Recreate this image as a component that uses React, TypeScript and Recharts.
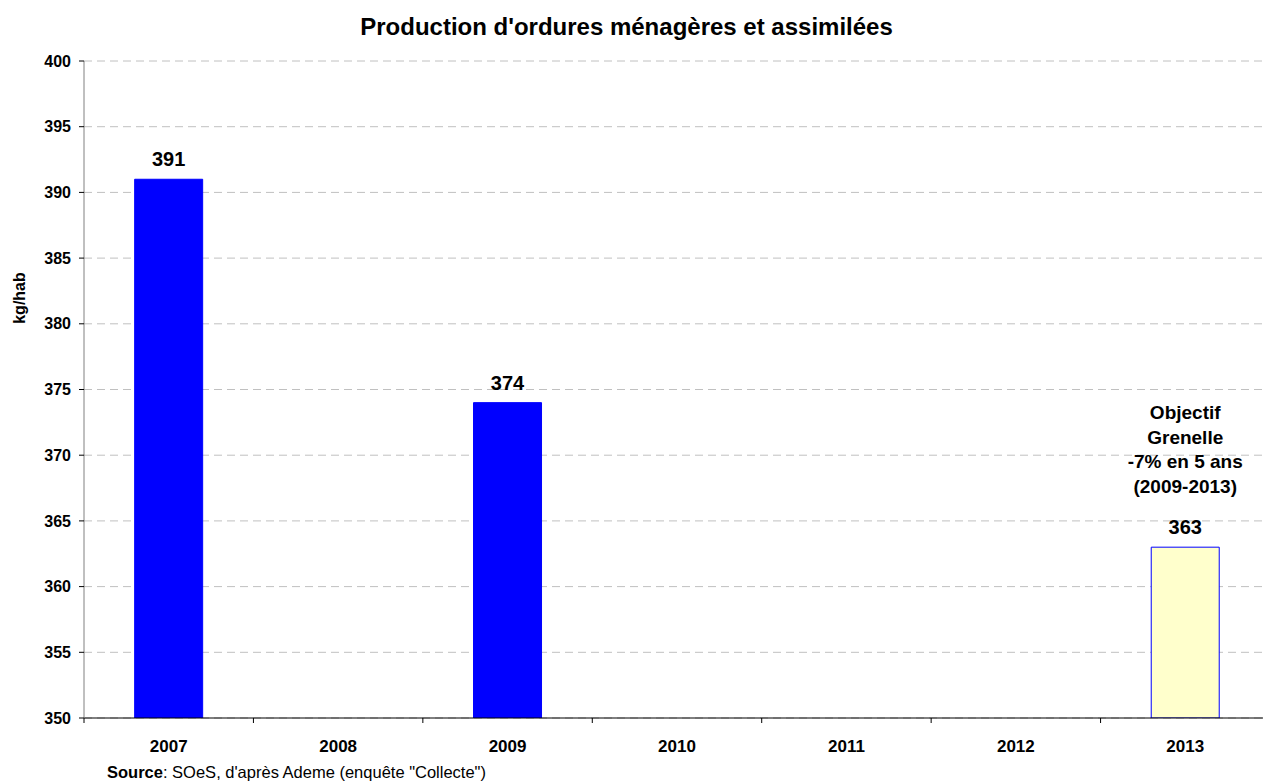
import { BarChart, Bar, XAxis, YAxis, CartesianGrid, Cell, LabelList } from "recharts";

const YEARS = ["2007", "2008", "2009", "2010", "2011", "2012", "2013"];
const VALUES: (number | null)[] = [391, null, 374, null, null, null, 363];
const OBJECTIVE = [false, false, false, false, false, false, true];
const NOTE_LINES = ["Objectif", "Grenelle", "-7% en 5 ans", "(2009-2013)"];
const Y_TICKS = [350, 355, 360, 365, 370, 375, 380, 385, 390, 395, 400];

const data = YEARS.map((year, i) => ({
  year,
  value: VALUES[i],
  objective: OBJECTIVE[i],
  note: OBJECTIVE[i] ? NOTE_LINES.join("\n") : "",
}));

const FONT = "'Liberation Sans', Arial, sans-serif";
const W = 1263;
const H = 783;
// the plot runs a few pixels past the right edge of the picture
const CHART_W = 1270;
const LEFT = 84;
const BAND = (CHART_W - LEFT) / YEARS.length;

function XTick(props: any) {
  const { x, y, payload } = props;
  return (
    <g>
      <line x1={x - BAND / 2} y1={y - 8} x2={x - BAND / 2} y2={y - 3} stroke="#000" />
      {payload.index === YEARS.length - 1 && (
        <line x1={x + BAND / 2} y1={y - 8} x2={x + BAND / 2} y2={y - 3} stroke="#000" />
      )}
      <text x={x} y={y + 26} textAnchor="middle" fontSize={17} fontWeight="bold" fill="#000" fontFamily={FONT}>
        {payload.value}
      </text>
    </g>
  );
}

function ValueLabel(props: any) {
  const { x, y, width, value } = props;
  if (value == null) return null;
  return (
    <text x={x + width / 2} y={y - 13} textAnchor="middle" fontSize={20} fontWeight="bold" fill="#000" fontFamily={FONT}>
      {value}
    </text>
  );
}

function NoteLabel(props: any) {
  const { x, y, width, value } = props;
  if (!value) return null;
  const lines = String(value).split("\n");
  return (
    <g fontFamily={FONT} fontWeight="bold" fill="#000" textAnchor="middle" fontSize={19}>
      {lines.map((line, i) => (
        <text key={i} x={x + width / 2} y={y - 128 + i * 24.5}>{line}</text>
      ))}
    </g>
  );
}

function YLabel() {
  return (
    <text
      x={25}
      y={298}
      transform="rotate(-90 25 298)"
      textAnchor="middle"
      fontSize={16}
      fontWeight="bold"
      fill="#000"
      fontFamily={FONT}
    >
      kg/hab
    </text>
  );
}

export default function App() {
  return (
    <div style={{ position: "relative", width: W, height: H, overflow: "hidden", background: "#fff", fontFamily: FONT }}>
      <style>{`body{margin:0}`}</style>
      <div style={{ position: "absolute", top: 15, left: 0, width: W - 10, textAlign: "center", fontSize: 24, lineHeight: 1, fontWeight: "bold" }}>
        Production d'ordures ménagères et assimilées
      </div>
      <BarChart
        width={CHART_W}
        height={H}
        data={data}
        margin={{ top: 61, right: 0, bottom: 0, left: 0 }}
        barCategoryGap="29.9%"
      >
        <CartesianGrid vertical={false} stroke="#c0c0c0" strokeDasharray="8 5" />
        <XAxis
          dataKey="year"
          height={65}
          stroke="#000"
          tickLine={false}
          tick={<XTick />}
          interval={0}
        />
        <YAxis
          width={LEFT}
          domain={[350, 400]}
          ticks={Y_TICKS}
          interval={0}
          allowDataOverflow
          stroke="#808080"
          tickSize={5}
          tickMargin={8}
          tickLine={{ stroke: "#000" }}
          tick={{ fontSize: 16, fontWeight: "bold", fill: "#000", fontFamily: FONT }}
          label={<YLabel />}
        />
        <Bar dataKey="value" isAnimationActive={false}>
          {data.map((d, i) => (
            <Cell key={i} fill={d.objective ? "#ffffcc" : "#0000ff"} stroke="#0000ff" strokeWidth={1} />
          ))}
          <LabelList dataKey="value" content={<ValueLabel />} />
          <LabelList dataKey="note" content={<NoteLabel />} />
        </Bar>
      </BarChart>
      <div style={{ position: "absolute", top: 764, left: 107, fontSize: 16.5, lineHeight: 1 }}>
        <b>Source</b>: SOeS, d'après Ademe (enquête "Collecte")
      </div>
    </div>
  );
}
